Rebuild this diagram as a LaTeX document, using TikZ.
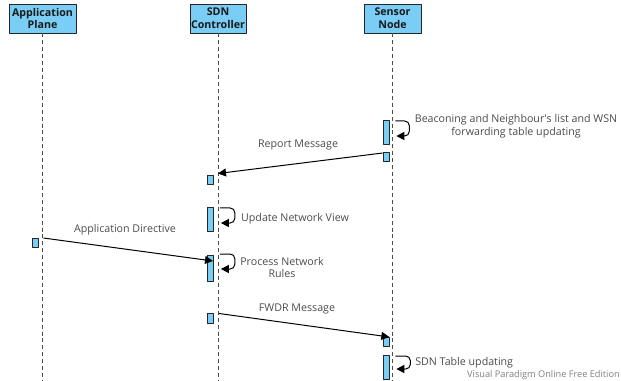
\documentclass[tikz,border=0pt]{standalone}
\usepackage{fontspec}
\setmainfont{Open Sans}
\usetikzlibrary{arrows.meta}
\definecolor{barblue}{RGB}{122,206,245}
\definecolor{labelgray}{RGB}{75,75,75}
\begin{document}
\begin{tikzpicture}[x=0.75pt, y=-0.75pt, font=\fontsize{8}{9.6}\selectfont, line join=round,
		>={Triangle[length=6pt,width=6pt]},
		head/.style={draw=black!85, fill=barblue, line width=0.6pt, inner sep=0pt, minimum height=21.75pt,
			align=center, font=\fontsize{8}{9.6}\selectfont\bfseries, text=black!90},
		bar/.style={draw=black!85, fill=barblue, line width=0.5pt, inner sep=0pt, minimum width=4.5pt, anchor=north},
		life/.style={draw=black!70, line width=0.5pt, dash pattern=on 3pt off 2.2pt},
		msg/.style={->, line width=0.75pt},
		loop/.style={->, line width=0.75pt, rounded corners=3.5pt},
		lbl/.style={text=labelgray, align=center, inner sep=0pt}]
			\useasboundingbox (0,0) rectangle (621,381);
			\def\ybot{381}
			% heads and lifelines
			\node[head, minimum width=50.25pt] (appHead) at (42.5,18.5) {Application\\Plane};
			\node[head, minimum width=42pt] (ctrlHead) at (218,18.5) {SDN\\Controller};
			\node[head, minimum width=42.75pt] (sensHead) at (392.5,18.5) {Sensor\\Node};
			\draw[life] (appHead.south) -- (42.5,\ybot);
			\draw[life] (ctrlHead.south) -- (218,\ybot);
			\draw[life] (sensHead.south) -- (392.5,\ybot);
			% activation bars
			\node[bar, minimum height=18pt] (sBeacon) at (386,120) {};
			\node[bar, minimum height=6.75pt] (sReport) at (386,152) {};
			\node[bar, minimum height=6.75pt] (cReport) at (210.5,175) {};
			\node[bar, minimum height=18pt] (cUpdate) at (210.5,207) {};
			\node[bar, minimum height=6.75pt] (aDirect) at (35,238) {};
			\node[bar, minimum height=19.5pt] (cProcess) at (210.5,255) {};
			\node[bar, minimum height=7.5pt] (cFwdr) at (210.5,313) {};
			\node[bar, minimum height=6.75pt] (sFwdr) at (386,337) {};
			\node[bar, minimum height=18pt] (sTable) at (386,355) {};
			\coordinate (cReportIn) at (218,173.5);
			\coordinate (cProcessIn) at (213,261);
			\coordinate (cFwdrOut) at (219,313.5);
			% self messages
			\draw[loop] (sBeacon.north east) ++(6,1) -- ++(14,0) -- ++(0,15) -- ++(-13,0);
			\draw[loop] (cUpdate.north east) ++(6,1) -- ++(15,0) -- ++(0,15) -- ++(-14,0);
			\draw[loop] (cProcess.north east) ++(6,-1) -- ++(15,0) -- ++(0,15) -- ++(-14,0);
			\draw[loop] (sTable.north east) ++(6,1) -- ++(15,0) -- ++(0,13) -- ++(-14,0);
			% messages
			\draw[msg] (sReport.north west) ++(0,1) -- (cReportIn);
			\draw[msg] (aDirect.north east) ++(5,0) -- (cProcessIn);
			\draw[msg] (cFwdrOut) -- (sFwdr.north east);
			% labels
			\node[lbl] (beaconLbl) at (516,126) {Beaconing and Neighbour\textquotesingle s list and WSN\\forwarding table updating};
			\node[lbl] (reportLbl) at (298,145) {Report Message};
			\node[lbl] (updateLbl) at (295,219) {Update Network View};
			\node[lbl] (directLbl) at (125,230) {Application Directive};
			\node[lbl] (processLbl) at (282,267.5) {Process Network\\Rules};
			\node[lbl] (fwdrLbl) at (297,309) {FWDR Message};
			\node[lbl, anchor=west] (tableLbl) at (415,363) {SDN Table updating};
			\node[lbl, anchor=east, text=black!50, font=\fontsize{6.9}{8}\selectfont] (wmLbl) at (620,375) {Visual Paradigm Online Free Edition};
\end{tikzpicture}
\end{document}
